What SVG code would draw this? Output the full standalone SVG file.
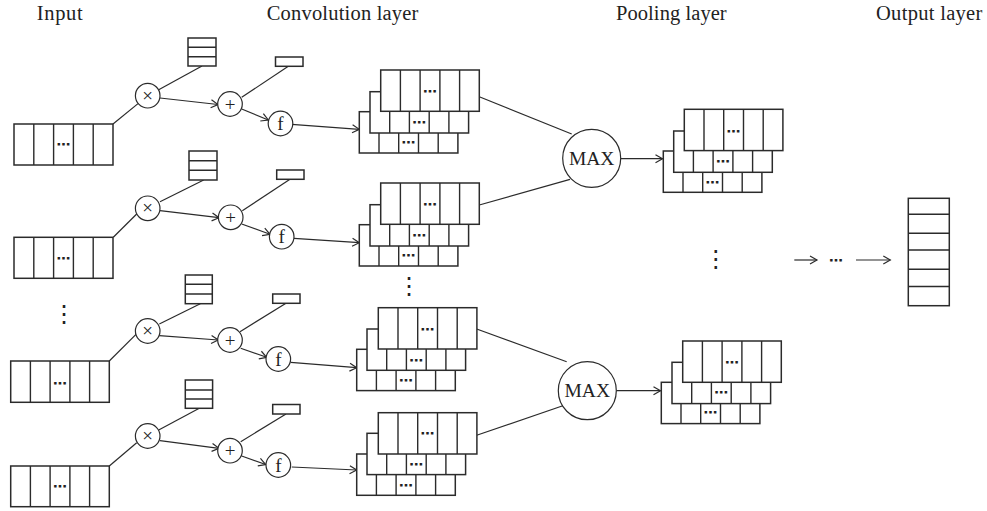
<svg xmlns="http://www.w3.org/2000/svg" width="987" height="511" viewBox="0 0 987 511">
  <defs>
    <style>
      .box { fill: #fff; stroke: #2b2b2b; stroke-width: 1.5; }
      .dv { stroke: #2b2b2b; stroke-width: 1.4; fill: none; }
      .ln { stroke: #2b2b2b; stroke-width: 1.2; fill: none; }
      .arw { marker-end: url(#arr); }
      .op { fill: #fff; stroke: #2b2b2b; stroke-width: 1.2; }
      .hdr { font-family: "Liberation Serif", serif; font-size: 20.5px; fill: #222; }
      .dots { font-family: "DejaVu Sans", sans-serif; font-size: 14px; font-weight: bold; fill: #222; text-anchor: middle; opacity: 0.999; }
      .vdots { font-family: "DejaVu Sans", sans-serif; font-size: 24px; fill: #222; text-anchor: middle; opacity: 0.999; }
      .sym { font-family: "Liberation Serif", serif; font-size: 19px; fill: #222; text-anchor: middle; opacity: 0.999; }
      .max { font-family: "Liberation Serif", serif; font-size: 19.5px; fill: #222; text-anchor: middle; }
    </style>
    <marker id="arr" viewBox="-9 -6 11 12" refX="0" refY="0" markerWidth="11" markerHeight="12" markerUnits="userSpaceOnUse" orient="auto">
      <path d="M-7,-4 L0,0 L-7,4" fill="none" stroke="#2b2b2b" stroke-width="1.2"/>
    </marker>
  </defs>

  <rect width="987" height="511" fill="#fff"/>

  <!-- column headings -->
  <g id="headings">
    <text class="hdr" x="36.7" y="19.5" textLength="46" lengthAdjust="spacing">Input</text>
    <text class="hdr" x="266.7" y="19.5" textLength="151.7" lengthAdjust="spacing">Convolution layer</text>
    <text class="hdr" x="616" y="19.5" textLength="110.7" lengthAdjust="spacing">Pooling layer</text>
    <text class="hdr" x="876" y="19.5" textLength="106.3" lengthAdjust="spacing">Output layer</text>
  </g>

  <!-- connectors -->
  <g id="connectors">
    <!-- branch 1 -->
    <path class="ln" d="M113,124 L138,103.6"/>
    <path class="ln" d="M202,66 L158.7,89.7"/>
    <path class="ln arw" d="M160,98 L218,104.5"/>
    <path class="ln" d="M288.7,66 L241.7,97.3"/>
    <path class="ln arw" d="M241.7,109 L268.3,120"/>
    <path class="ln arw" d="M291.7,124.3 L359.3,129.3"/>
    <!-- branch 2 -->
    <path class="ln" d="M113.3,237.3 L136.7,214"/>
    <path class="ln" d="M203.7,180 L160,201.7"/>
    <path class="ln arw" d="M160,210.7 L219,217.7"/>
    <path class="ln" d="M290,179.3 L242.3,210.7"/>
    <path class="ln arw" d="M241.7,224 L270,234.3"/>
    <path class="ln arw" d="M294,238.3 L359.3,242.7"/>
    <!-- branch 3 -->
    <path class="ln" d="M109.3,361 L136,334.3"/>
    <path class="ln" d="M200.3,303.7 L159.3,324"/>
    <path class="ln arw" d="M159.3,335.7 L218.3,340"/>
    <path class="ln" d="M286,303.3 L240,331.7"/>
    <path class="ln arw" d="M240.7,348.3 L266.7,357.3"/>
    <path class="ln arw" d="M290.7,362.3 L356.7,367.7"/>
    <!-- branch 4 -->
    <path class="ln" d="M109.3,466 L136.7,442.7"/>
    <path class="ln" d="M199.3,408.3 L158.7,430"/>
    <path class="ln arw" d="M160,440.7 L219,448.3"/>
    <path class="ln" d="M286,414 L240.7,441.7"/>
    <path class="ln arw" d="M241.7,456 L265.7,464.5"/>
    <path class="ln arw" d="M291.7,467 L356.7,470"/>
    <!-- feature maps into max pooling -->
    <path class="ln" d="M479.3,96.7 L571.7,134"/>
    <path class="ln" d="M479.3,205 L570,179.3"/>
    <path class="ln" d="M476.7,329 L566.7,361.7"/>
    <path class="ln" d="M476.7,435.3 L565,405"/>
    <!-- max pooling outputs -->
    <path class="ln arw" d="M620.7,158.7 L662.5,158.7"/>
    <path class="ln arw" d="M616.3,390.7 L660.5,390.7"/>
    <!-- towards output layer -->
    <path class="ln arw" d="M794.3,260 L817,260"/>
    <path class="ln arw" d="M856,260 L890.3,260"/>
  </g>

  <!-- inputs -->
  <g id="input1">
    <rect class="box" x="14" y="124" width="99" height="41"/>
    <path class="dv" d="M33.8,124 v41 M53.6,124 v41 M73.4,124 v41 M93.2,124 v41"/>
    <text class="dots" x="63.5" y="149">⋯</text>
  </g>
  <g id="input2">
    <rect class="box" x="14" y="237.3" width="99" height="41"/>
    <path class="dv" d="M33.8,237.3 v41 M53.6,237.3 v41 M73.4,237.3 v41 M93.2,237.3 v41"/>
    <text class="dots" x="63.5" y="262.5">⋯</text>
  </g>
  <g id="input-ellipsis">
    <text class="vdots" x="64" y="322">⋮</text>
  </g>
  <g id="input3">
    <rect class="box" x="10.7" y="361" width="98.6" height="41.3"/>
    <path class="dv" d="M30.4,361 v41.3 M50.1,361 v41.3 M69.9,361 v41.3 M89.6,361 v41.3"/>
    <text class="dots" x="60" y="388">⋯</text>
  </g>
  <g id="input4">
    <rect class="box" x="10.7" y="466" width="98.6" height="40.7"/>
    <path class="dv" d="M30.4,466 v40.7 M50.1,466 v40.7 M69.9,466 v40.7 M89.6,466 v40.7"/>
    <text class="dots" x="60" y="491">⋯</text>
  </g>

  <!-- kernel weights (3 cells) and biases -->
  <g id="weight1">
    <rect class="box" x="188" y="38" width="28" height="28"/>
    <path class="dv" d="M188,47.3 h28 M188,56.7 h28"/>
  </g>
  <g id="bias1"><rect class="box" x="275.5" y="57" width="27.5" height="9.3"/></g>
  <g id="weight2">
    <rect class="box" x="189" y="151" width="28" height="29"/>
    <path class="dv" d="M189,160.7 h28 M189,170.3 h28"/>
  </g>
  <g id="bias2"><rect class="box" x="276.7" y="170" width="27.3" height="9.3"/></g>
  <g id="weight3">
    <rect class="box" x="185.3" y="275" width="27" height="28.7"/>
    <path class="dv" d="M185.3,284.3 h27 M185.3,294 h27"/>
  </g>
  <g id="bias3"><rect class="box" x="272.7" y="294" width="27.3" height="9.3"/></g>
  <g id="weight4">
    <rect class="box" x="185.3" y="380" width="27.3" height="28.3"/>
    <path class="dv" d="M185.3,390 h27.3 M185.3,399 h27.3"/>
  </g>
  <g id="bias4"><rect class="box" x="272.7" y="404.5" width="27.3" height="9.5"/></g>

  <!-- operators: multiply, add, activation -->
  <g id="mul1"><circle class="op" cx="147.7" cy="95.7" r="12.3"/><text class="sym" x="147.7" y="101.7">×</text></g>
  <g id="add1"><circle class="op" cx="230" cy="104" r="12.3"/><text class="sym" x="230" y="110.5">+</text></g>
  <g id="act1"><circle class="op" cx="280.5" cy="123.5" r="12.3"/><text class="sym" x="280.5" y="130">f</text></g>

  <g id="mul2"><circle class="op" cx="147.7" cy="208.3" r="12.3"/><text class="sym" x="147.7" y="214.3">×</text></g>
  <g id="add2"><circle class="op" cx="230.7" cy="217.3" r="12.3"/><text class="sym" x="230.7" y="223.8">+</text></g>
  <g id="act2"><circle class="op" cx="281.7" cy="236.7" r="12.3"/><text class="sym" x="281.7" y="243.2">f</text></g>

  <g id="mul3"><circle class="op" cx="147.7" cy="331" r="12.3"/><text class="sym" x="147.7" y="337">×</text></g>
  <g id="add3"><circle class="op" cx="230" cy="340" r="12.3"/><text class="sym" x="230" y="346.5">+</text></g>
  <g id="act3"><circle class="op" cx="278.3" cy="359" r="12.3"/><text class="sym" x="278.3" y="365.5">f</text></g>

  <g id="mul4"><circle class="op" cx="147.7" cy="436" r="12.3"/><text class="sym" x="147.7" y="442">×</text></g>
  <g id="add4"><circle class="op" cx="230" cy="450.7" r="12.3"/><text class="sym" x="230" y="457.2">+</text></g>
  <g id="act4"><circle class="op" cx="278.3" cy="465" r="12.3"/><text class="sym" x="278.3" y="471.5">f</text></g>

  <!-- convolution feature map stacks (back layer first) -->
  <g id="conv1">
    <rect class="box" x="359.3" y="111.7" width="98.6" height="41.3"/>
    <path class="dv" d="M379,111.7 v41.3 M398.7,111.7 v41.3 M418.5,111.7 v41.3 M438.2,111.7 v41.3"/>
    <text class="dots" x="408.6" y="146.7">⋯</text>
    <rect class="box" x="370" y="91.7" width="98.6" height="41.3"/>
    <path class="dv" d="M389.7,91.7 v41.3 M409.4,91.7 v41.3 M429.2,91.7 v41.3 M448.9,91.7 v41.3"/>
    <text class="dots" x="419.3" y="126.7">⋯</text>
    <rect class="box" x="380.7" y="70" width="98.6" height="41.3"/>
    <path class="dv" d="M400.4,70 v41.3 M420.1,70 v41.3 M439.9,70 v41.3 M459.6,70 v41.3"/>
    <text class="dots" x="430" y="96">⋯</text>
  </g>
  <g id="conv2">
    <rect class="box" x="359.3" y="224.7" width="98.6" height="41.3"/>
    <path class="dv" d="M379,224.7 v41.3 M398.7,224.7 v41.3 M418.5,224.7 v41.3 M438.2,224.7 v41.3"/>
    <text class="dots" x="408.6" y="259.7">⋯</text>
    <rect class="box" x="370" y="204.7" width="98.6" height="41.3"/>
    <path class="dv" d="M389.7,204.7 v41.3 M409.4,204.7 v41.3 M429.2,204.7 v41.3 M448.9,204.7 v41.3"/>
    <text class="dots" x="419.3" y="239.7">⋯</text>
    <rect class="box" x="380.7" y="183" width="98.6" height="41.3"/>
    <path class="dv" d="M400.4,183 v41.3 M420.1,183 v41.3 M439.9,183 v41.3 M459.6,183 v41.3"/>
    <text class="dots" x="430" y="209">⋯</text>
  </g>
  <g id="conv-ellipsis">
    <text class="vdots" x="409" y="293.5">⋮</text>
  </g>
  <g id="conv3">
    <rect class="box" x="356.7" y="349.3" width="98.6" height="41.3"/>
    <path class="dv" d="M376.4,349.3 v41.3 M396.1,349.3 v41.3 M415.9,349.3 v41.3 M435.6,349.3 v41.3"/>
    <text class="dots" x="406" y="384.5">⋯</text>
    <rect class="box" x="367" y="329" width="98.6" height="41.3"/>
    <path class="dv" d="M386.7,329 v41.3 M406.4,329 v41.3 M426.2,329 v41.3 M445.9,329 v41.3"/>
    <text class="dots" x="416.3" y="364.5">⋯</text>
    <rect class="box" x="378.3" y="307.7" width="98.6" height="41.3"/>
    <path class="dv" d="M398,307.7 v41.3 M417.7,307.7 v41.3 M437.5,307.7 v41.3 M457.2,307.7 v41.3"/>
    <text class="dots" x="427.6" y="333.8">⋯</text>
  </g>
  <g id="conv4">
    <rect class="box" x="356.7" y="454" width="98.6" height="41.3"/>
    <path class="dv" d="M376.4,454 v41.3 M396.1,454 v41.3 M415.9,454 v41.3 M435.6,454 v41.3"/>
    <text class="dots" x="406" y="490">⋯</text>
    <rect class="box" x="367" y="433.3" width="98.6" height="41.3"/>
    <path class="dv" d="M386.7,433.3 v41.3 M406.4,433.3 v41.3 M426.2,433.3 v41.3 M445.9,433.3 v41.3"/>
    <text class="dots" x="416.3" y="468.7">⋯</text>
    <rect class="box" x="378.3" y="412.7" width="98.6" height="41.3"/>
    <path class="dv" d="M398,412.7 v41.3 M417.7,412.7 v41.3 M437.5,412.7 v41.3 M457.2,412.7 v41.3"/>
    <text class="dots" x="427.6" y="437.5">⋯</text>
  </g>

  <!-- max pooling units -->
  <g id="max1">
    <circle class="op" cx="591.7" cy="158.3" r="29"/>
    <text class="max" x="591.7" y="165">MAX</text>
  </g>
  <g id="max2">
    <circle class="op" cx="587.3" cy="390.7" r="29"/>
    <text class="max" x="587.3" y="397.4">MAX</text>
  </g>

  <!-- pooled feature map stacks -->
  <g id="pool1">
    <rect class="box" x="663.3" y="151" width="98.6" height="41.3"/>
    <path class="dv" d="M683,151 v41.3 M702.7,151 v41.3 M722.5,151 v41.3 M742.2,151 v41.3"/>
    <text class="dots" x="712.6" y="186.5">⋯</text>
    <rect class="box" x="673.7" y="131" width="98.6" height="41.3"/>
    <path class="dv" d="M693.4,131 v41.3 M713.1,131 v41.3 M732.9,131 v41.3 M752.6,131 v41.3"/>
    <text class="dots" x="723" y="166">⋯</text>
    <rect class="box" x="684.3" y="109.3" width="98.6" height="41.3"/>
    <path class="dv" d="M704,109.3 v41.3 M723.7,109.3 v41.3 M743.5,109.3 v41.3 M763.2,109.3 v41.3"/>
    <text class="dots" x="733.6" y="135.5">⋯</text>
  </g>
  <g id="pool-ellipsis">
    <text class="vdots" x="715.7" y="266.5">⋮</text>
  </g>
  <g id="pool2">
    <rect class="box" x="661.3" y="382.3" width="98.6" height="41.3"/>
    <path class="dv" d="M681,382.3 v41.3 M700.7,382.3 v41.3 M720.5,382.3 v41.3 M740.2,382.3 v41.3"/>
    <text class="dots" x="710.6" y="417.3">⋯</text>
    <rect class="box" x="672" y="362.3" width="98.6" height="41.3"/>
    <path class="dv" d="M691.7,362.3 v41.3 M711.4,362.3 v41.3 M731.2,362.3 v41.3 M750.9,362.3 v41.3"/>
    <text class="dots" x="721.3" y="397.3">⋯</text>
    <rect class="box" x="682.7" y="341" width="98.6" height="41.3"/>
    <path class="dv" d="M702.4,341 v41.3 M722.1,341 v41.3 M741.9,341 v41.3 M761.6,341 v41.3"/>
    <text class="dots" x="732" y="367">⋯</text>
  </g>

  <!-- hidden stages between pooling and output -->
  <g id="hidden-ellipsis">
    <text class="dots" x="836" y="264.5">⋯</text>
  </g>

  <!-- output vector -->
  <g id="output">
    <rect class="box" x="908.3" y="198.3" width="41" height="107.4"/>
    <path class="dv" d="M908.3,214.3 h41 M908.3,233.3 h41 M908.3,250 h41 M908.3,269.3 h41 M908.3,286.5 h41"/>
  </g>
</svg>
